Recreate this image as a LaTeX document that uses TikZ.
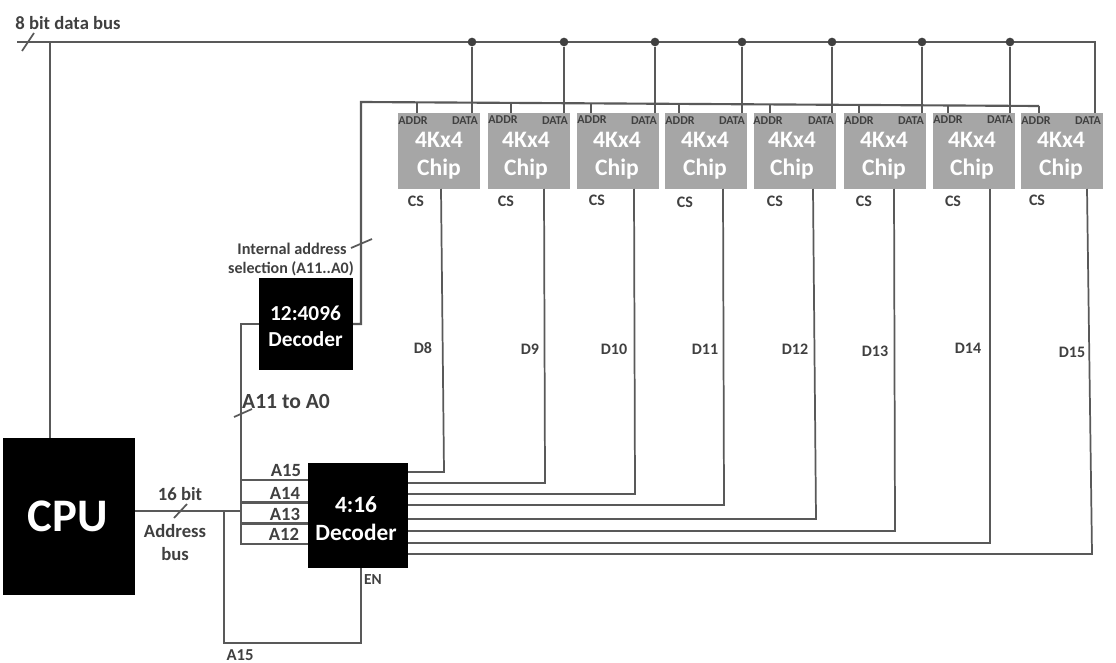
\documentclass[tikz,border=0pt]{standalone}
\usepackage{fontspec}
\setmainfont{Carlito}
\definecolor{wirecol}{HTML}{595959}
\definecolor{textcol}{HTML}{404040}
\definecolor{chipcol}{HTML}{A6A6A6}
\tikzset{
  wire/.style={draw=wirecol,line width=1.6pt,line join=miter},
  thinwire/.style={draw=wirecol,line width=1.3pt},
  lbl/.style={inner sep=0pt,outer sep=0pt,yshift=-0.6pt,text=textcol,font=\bfseries\fontsize{#1}{#1}\selectfont,text height=#1*0.64pt,text depth=0pt},
  whitelbl/.style={lbl=#1,text=white},
  chipbox/.style={fill=chipcol,draw=none,minimum width=61.5pt,minimum height=57pt,inner sep=0pt,outer sep=0pt},
  blackbox/.style={fill=black,draw=none,inner sep=0pt,outer sep=0pt},
  junction/.style={circle,fill=textcol,draw=none,minimum size=6.5pt,inner sep=0pt}
}
\begin{document}
\begin{tikzpicture}[x=0.75pt,y=-0.75pt]
\useasboundingbox (0,0) rectangle (1116,663);
\fill[white] (0,0) rectangle (1116,663);

% main blocks
\node[blackbox,minimum width=99pt,minimum height=117.75pt] (cpu) at (69,516.5) {};
\node[whitelbl=35] (cputext) at (67.5,516) {CPU};
\node[blackbox,minimum width=70.5pt,minimum height=69pt] (mem) at (306,324) {};
\node[blackbox,minimum width=75pt,minimum height=78.75pt] (dec) at (358,515.5) {};
\node[whitelbl=16] (memA) at (305.5,313) {12:4096};
\node[whitelbl=16] (memB) at (305.5,339) {Decoder};
\node[whitelbl=17.5] (decA) at (356,504) {4:16};
\node[whitelbl=17.5] (decB) at (356,532) {Decoder};

% chips
\foreach \i/\cx/\tx/\ax/\ay/\dx/\dy/\csx/\csy in {
 1/439/439/413/120/465/120/416/201,
 2/529/526/503/119/555/120/506/201,
 3/618/617/592/119/644/120/597/200,
 4/706/705/680/120/732/120/685/202,
 5/795/792/768/120/821/120/775/201,
 6/885/884/859/120/911/120/864/201,
 7/974/972/948/119/1000/119/953/201,
 8/1062/1061/1036/120/1088/120/1037/200}{
  \node[chipbox] (chip\i) at (\cx,151) {};
  \node[whitelbl=17.7] (chipA\i) at (\tx,139) {4Kx4};
  \node[whitelbl=17.7] (chipB\i) at (\tx,167) {Chip};
  \node[lbl=9] (addr\i) at (\ax,\ay) {ADDR};
  \node[lbl=9] (data\i) at (\dx,\dy) {DATA};
  \node[lbl=12] (cs\i) at (\csx,\csy) {CS};
}

% data bus
\coordinate (dataL) at (17,42);
\coordinate (dataC) at (1095,42);
\coordinate (cpuData) at (50,42);
\draw[wire] (dataL) -- (dataC) -- (dataC |- chip8.north);
\draw[wire] (cpuData) -- (cpuData |- cpu.north);
\foreach \i/\x in {1/472,2/564,3/655,4/742,5/832,6/922,7/1010}{
  \node[junction] (j\i) at (\x,42) {};
  \draw[thinwire] (j\i) -- (j\i |- chip\i.north);
}
\coordinate (slashDa) at (22,51);
\coordinate (slashDb) at (34,33);
\draw[thinwire] (slashDa) -- (slashDb);
\node[lbl=14] (databus) at (68,23) {8 bit data bus};

% internal address bus
\coordinate (addrT) at (361,102);
\coordinate (addrR) at (1039,106);
\draw[wire] (mem.east |- 0,324) -| (addrT) -- (addrR);
\foreach \i/\x/\y in {1/417/102.3,2/511/103,3/591/103.4,4/679/104,5/770/104.5,6/859/105,7/948/105.5,8/1039/106}{
  \coordinate (drop\i) at (\x,\y);
  \draw[thinwire] (drop\i) -- (drop\i |- chip\i.north);
}
\coordinate (slashIa) at (351,248);
\coordinate (slashIb) at (372,239);
\draw[thinwire] (slashIa) -- (slashIb);
\node[lbl=12.2] (intA) at (292,248) {Internal address};
\node[lbl=12] (intB) at (291,268) {selection (A11..A0)};

% decoder outputs to chip selects
\foreach \i/\tx/\x/\y/\n/\lx/\ly in {
 1/441/444/472/D8/423/348,
 2/544/545/483/D9/530/349,
 3/634/635/494/D10/614/349,
 4/723/724/505/D11/705/349,
 5/813/816/519/D12/795/349,
 6/894/895/531/D13/875/351,
 7/990/990/543/D14/968/348,
 8/1087/1092/554/D15/1072/352}{
  \coordinate (out\i) at (\x,\y);
  \coordinate (top\i) at (\tx,189);
  \draw[thinwire] (dec.east |- out\i) -- (out\i) -- (top\i);
  \node[lbl=12] (dl\i) at (\lx,\ly) {\n};
}

% address bus
\coordinate (busV) at (241,511);
\coordinate (busTop) at (241,324);
\coordinate (busBot) at (241,544);
\coordinate (enTap) at (224,511);
\coordinate (enBL) at (224,643);
\coordinate (enBR) at (361,643);
\draw[wire] (cpu.east |- busV) -- (busV);
\draw[wire] (mem.west |- busTop) -- (busTop) -- (busBot) -- (dec.west |- busBot);
\foreach \i/\y in {1/480,2/502.5,3/523.5}{
  \coordinate (in\i) at (241,\y);
  \draw[wire] (in\i) -- (dec.west |- in\i);
}
\draw[wire] (enTap) -- (enBL) -- (enBR) -- (enBR |- dec.south);
\coordinate (slashAa) at (174,518);
\coordinate (slashAb) at (187,504);
\draw[thinwire] (slashAa) -- (slashAb);
\coordinate (slashBa) at (234,417);
\coordinate (slashBb) at (252,409);
\draw[thinwire] (slashBa) -- (slashBb);

\node[lbl=16.2] (a11) at (286,401) {A11 to A0};
\node[lbl=14] (bits) at (180,494) {16 bit};
\node[lbl=14] (addrbus1) at (175,531) {Address};
\node[lbl=14] (addrbus2) at (175,554) {bus};
\node[lbl=14] (a15) at (286,470) {A15};
\node[lbl=14] (a14) at (285,493) {A14};
\node[lbl=14] (a13) at (285,514) {A13};
\node[lbl=14] (a12) at (284,534) {A12};
\node[lbl=11.5] (en) at (373,579) {EN};
\node[lbl=12.5] (a15b) at (240,654) {A15};
\end{tikzpicture}
\end{document}
